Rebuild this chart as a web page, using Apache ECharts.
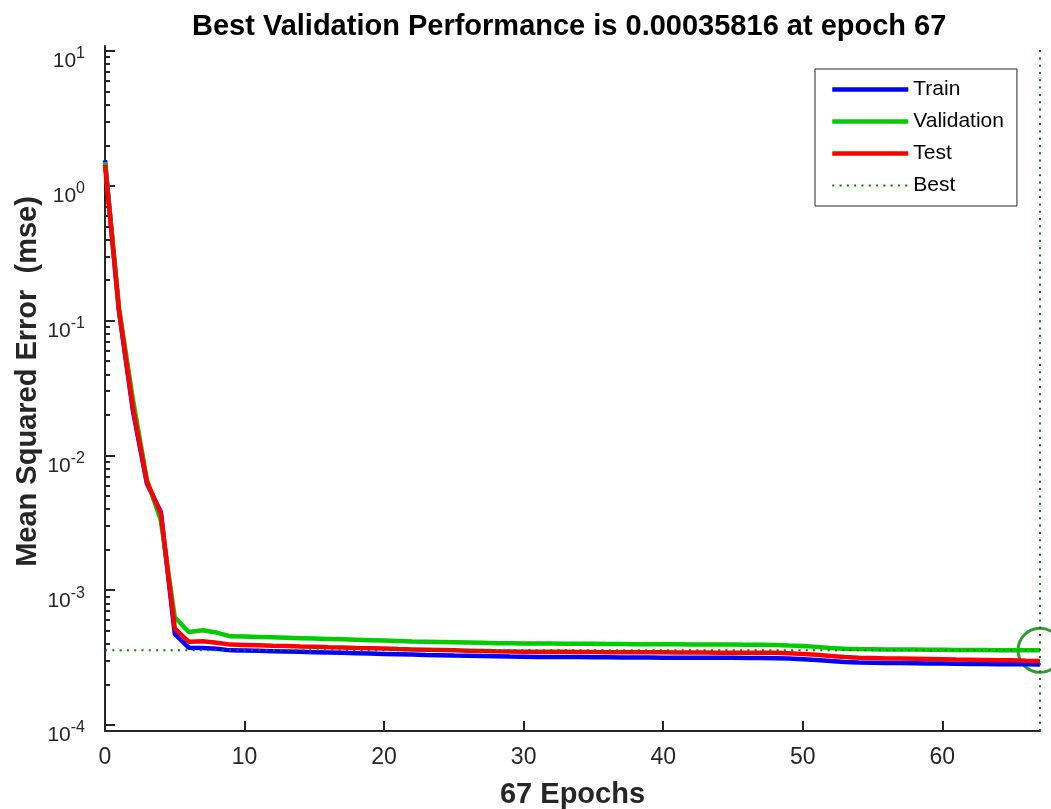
<!DOCTYPE html>
<html>
<head>
<meta charset="utf-8">
<script src="https://cdn.jsdelivr.net/npm/echarts@6/dist/echarts.min.js"></script>
<style>
  html, body { margin: 0; padding: 0; background: #fff; }
  #perf { width: 1051px; height: 809px; }
</style>
</head>
<body>
<div id="perf"></div>
<script>
// epochs 0..67
var epochs = [];
for (var i = 0; i <= 67; i++) epochs.push(i);

var trainMse = [
  1.55, 0.118, 0.0215, 0.0062, 0.0038, 4.75e-4, 3.75e-4, 3.72e-4, 3.68e-4, 3.58e-4,
  3.57e-4, 3.55e-4, 3.53e-4, 3.51e-4, 3.49e-4, 3.47e-4, 3.45e-4, 3.43e-4, 3.41e-4, 3.39e-4,
  3.37e-4, 3.35e-4, 3.33e-4, 3.31e-4, 3.30e-4, 3.28e-4, 3.27e-4, 3.25e-4, 3.24e-4, 3.22e-4,
  3.21e-4, 3.20e-4, 3.20e-4, 3.19e-4, 3.19e-4, 3.18e-4, 3.18e-4, 3.17e-4, 3.17e-4, 3.17e-4,
  3.16e-4, 3.16e-4, 3.16e-4, 3.15e-4, 3.15e-4, 3.15e-4, 3.14e-4, 3.14e-4, 3.13e-4, 3.11e-4,
  3.08e-4, 3.04e-4, 2.98e-4, 2.93e-4, 2.91e-4, 2.90e-4, 2.89e-4, 2.88e-4, 2.87e-4, 2.86e-4,
  2.86e-4, 2.85e-4, 2.84e-4, 2.84e-4, 2.83e-4, 2.82e-4, 2.82e-4, 2.81e-4
];

var validMse = [
  1.5, 0.125, 0.026, 0.0066, 0.0033, 6.3e-4, 4.9e-4, 5.05e-4, 4.85e-4, 4.55e-4,
  4.53e-4, 4.50e-4, 4.47e-4, 4.44e-4, 4.41e-4, 4.38e-4, 4.35e-4, 4.32e-4, 4.29e-4, 4.26e-4,
  4.23e-4, 4.20e-4, 4.17e-4, 4.15e-4, 4.13e-4, 4.11e-4, 4.09e-4, 4.07e-4, 4.05e-4, 4.04e-4,
  4.03e-4, 4.02e-4, 4.02e-4, 4.01e-4, 4.00e-4, 4.00e-4, 3.99e-4, 3.99e-4, 3.98e-4, 3.98e-4,
  3.97e-4, 3.97e-4, 3.96e-4, 3.96e-4, 3.95e-4, 3.95e-4, 3.94e-4, 3.94e-4, 3.93e-4, 3.89e-4,
  3.86e-4, 3.80e-4, 3.73e-4, 3.68e-4, 3.66e-4, 3.65e-4, 3.64e-4, 3.63e-4, 3.63e-4, 3.62e-4,
  3.62e-4, 3.61e-4, 3.60e-4, 3.60e-4, 3.59e-4, 3.59e-4, 3.585e-4, 3.5816e-4
];

var testMse = [
  1.43, 0.12, 0.0225, 0.0064, 0.0037, 5.2e-4, 4.15e-4, 4.18e-4, 4.08e-4, 3.95e-4,
  3.93e-4, 3.91e-4, 3.88e-4, 3.86e-4, 3.83e-4, 3.81e-4, 3.78e-4, 3.76e-4, 3.73e-4, 3.71e-4,
  3.69e-4, 3.66e-4, 3.64e-4, 3.62e-4, 3.60e-4, 3.58e-4, 3.56e-4, 3.54e-4, 3.52e-4, 3.51e-4,
  3.50e-4, 3.50e-4, 3.49e-4, 3.49e-4, 3.48e-4, 3.48e-4, 3.47e-4, 3.47e-4, 3.47e-4, 3.46e-4,
  3.46e-4, 3.45e-4, 3.45e-4, 3.45e-4, 3.44e-4, 3.44e-4, 3.44e-4, 3.43e-4, 3.43e-4, 3.41e-4,
  3.37e-4, 3.32e-4, 3.25e-4, 3.19e-4, 3.16e-4, 3.14e-4, 3.12e-4, 3.11e-4, 3.10e-4, 3.09e-4,
  3.08e-4, 3.06e-4, 3.05e-4, 3.04e-4, 3.03e-4, 3.02e-4, 3.00e-4, 2.99e-4
];

var bestEpoch = 67;
var bestPerf = 0.00035816;

var yMin = 9.03e-5;
var yMax = 10.9;
var xTicks = [0, 10, 20, 30, 40, 50, 60];
var yMajorTicks = [1e-4, 1e-3, 1e-2, 1e-1, 1, 10];
var yMinorTicks = [];
yMajorTicks.slice(0, -1).forEach(function (d) {
  for (var m = 2; m <= 9; m++) yMinorTicks.push(d * m);
});

var FONT = 'Liberation Sans, Arial, Helvetica, sans-serif';
var AXIS_COLOR = '#262626';
var LINE_W = 4.5;

function pairs(ys) {
  return epochs.map(function (x, i) { return [x, ys[i]]; });
}

var myChart = echarts.init(document.getElementById('perf'));

var option = {
  backgroundColor: '#fff',
  animation: false,
  title: {
    text: 'Best Validation Performance is ' + bestPerf + ' at epoch ' + bestEpoch,
    left: 187,
    top: 7,
    textStyle: { fontFamily: FONT, fontSize: 29, fontWeight: 'bold', color: '#000' }
  },
  legend: {
    data: [
      { name: 'Train', lineStyle: { width: LINE_W } },
      { name: 'Validation', lineStyle: { width: LINE_W } },
      { name: 'Test', lineStyle: { width: LINE_W } },
      { name: 'Best', lineStyle: { width: 2 } }
    ],
    orient: 'vertical',
    left: 815,
    top: 69,
    padding: [10, 13, 10, 15],
    itemWidth: 76,
    itemHeight: 20,
    itemGap: 11,
    itemStyle: { opacity: 0 },
    borderColor: AXIS_COLOR,
    borderWidth: 1,
    backgroundColor: '#fff',
    textStyle: { fontFamily: FONT, fontSize: 21, color: '#000' }
  },
  grid: { left: 105, right: 11, top: 46, bottom: 78, outerBoundsMode: 'none', containLabel: false },
  xAxis: {
    type: 'value',
    min: 0,
    max: bestEpoch,
    name: bestEpoch + ' Epochs',
    nameLocation: 'middle',
    nameGap: 49,
    nameMoveOverlap: false,
    nameTextStyle: { fontFamily: FONT, fontSize: 29, fontWeight: 'bold', color: AXIS_COLOR },
    axisLine: { lineStyle: { color: AXIS_COLOR, width: 2 } },
    axisTick: { inside: true, length: 10, lineStyle: { color: AXIS_COLOR, width: 2 }, customValues: xTicks },
    axisLabel: { customValues: xTicks, margin: 15, fontFamily: FONT, fontSize: 23, color: AXIS_COLOR },
    splitLine: { show: false }
  },
  yAxis: [
    {
      type: 'log',
      min: yMin,
      max: yMax,
      position: 'left',
      name: 'Mean Squared Error  (mse)',
      nameLocation: 'middle',
      nameGap: 63,
      nameMoveOverlap: false,
      nameTextStyle: { fontFamily: FONT, fontSize: 29, fontWeight: 'bold', color: AXIS_COLOR, padding: [0, 0, 0, 14] },
      axisLine: { show: true, lineStyle: { color: AXIS_COLOR, width: 2 } },
      axisTick: { inside: true, length: 10, lineStyle: { color: AXIS_COLOR, width: 2 }, customValues: yMajorTicks },
      axisLabel: {
        customValues: yMajorTicks,
        margin: 20,
        padding: [16, 0, 0, 0],
        formatter: function (v) {
          return '{b|10}{s|' + Math.round(Math.log10(v)) + '}';
        },
        rich: {
          b: { fontFamily: FONT, fontSize: 21, color: AXIS_COLOR, lineHeight: 26, verticalAlign: 'bottom' },
          s: { fontFamily: FONT, fontSize: 16, color: AXIS_COLOR, lineHeight: 18, verticalAlign: 'top' }
        }
      },
      splitLine: { show: false }
    },
    {
      type: 'log',
      min: yMin,
      max: yMax,
      position: 'left',
      axisLine: { show: false },
      axisTick: { inside: true, length: 5, lineStyle: { color: AXIS_COLOR, width: 2 }, customValues: yMinorTicks },
      axisLabel: { show: false },
      splitLine: { show: false }
    }
  ],
  series: [
    {
      name: 'Train',
      type: 'line',
      symbol: 'none',
      lineStyle: { color: '#0000ff', width: LINE_W },
      itemStyle: { color: '#0000ff' },
      data: pairs(trainMse)
    },
    {
      name: 'Validation',
      type: 'line',
      symbol: 'none',
      lineStyle: { color: '#00cc00', width: LINE_W },
      itemStyle: { color: '#00cc00' },
      data: pairs(validMse)
    },
    {
      name: 'Test',
      type: 'line',
      symbol: 'none',
      lineStyle: { color: '#ff0000', width: LINE_W },
      itemStyle: { color: '#ff0000' },
      data: pairs(testMse)
    },
    {
      name: 'Best',
      type: 'line',
      symbol: 'none',
      lineStyle: { color: '#007f00', width: 2, type: [2, 5.3] },
      itemStyle: { color: '#007f00' },
      data: [[0, bestPerf], [bestEpoch, bestPerf]]
    },
    {
      name: 'Best',
      type: 'line',
      symbol: 'none',
      lineStyle: { color: '#007f00', width: 2, type: [2, 5.3] },
      itemStyle: { color: '#007f00' },
      data: [[bestEpoch, yMin], [bestEpoch, yMax]]
    },
    {
      name: 'bestPoint',
      type: 'scatter',
      symbol: 'circle',
      symbolSize: 44,
      clip: false,
      itemStyle: { color: 'rgba(0,0,0,0)', borderColor: '#007f00', borderWidth: 3 },
      data: [[bestEpoch, bestPerf]]
    }
  ]
};

myChart.setOption(option);
</script>
</body>
</html>
